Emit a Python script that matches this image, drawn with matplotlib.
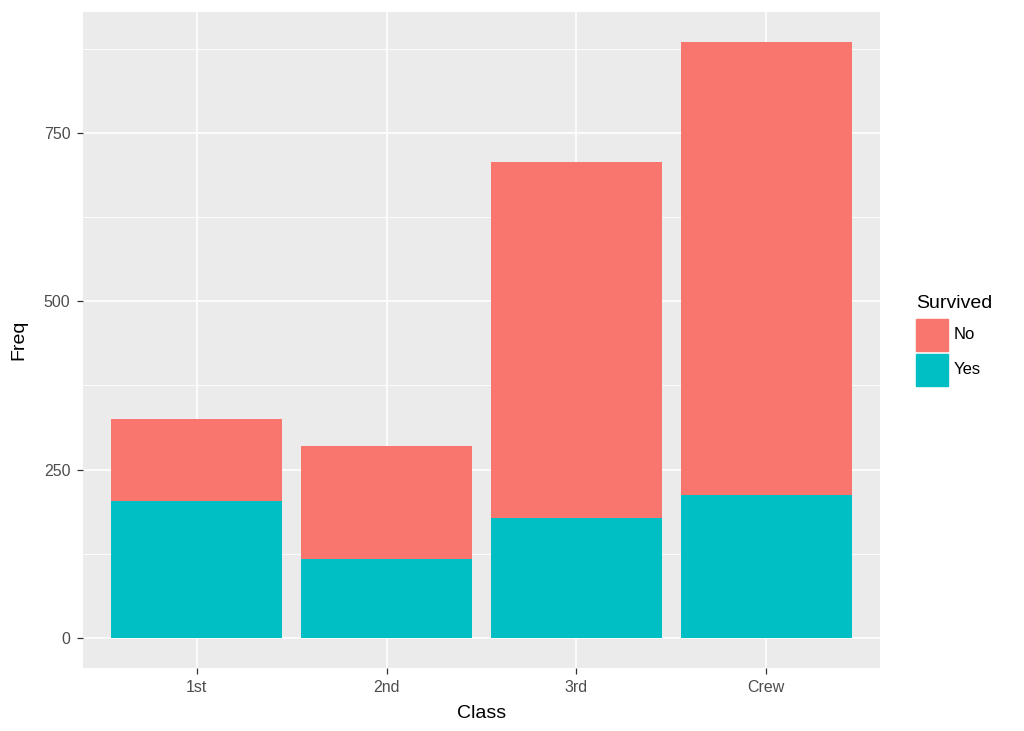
import matplotlib.pyplot as plt
from matplotlib.patches import Rectangle

classes = ["1st", "2nd", "3rd", "Crew"]
survived_yes = [203, 118, 178, 212]
survived_no = [122, 167, 528, 673]
y_ticks = [0, 250, 500, 750]
y_minor = [125, 375, 625, 875]

col_no = "#F8766D"
col_yes = "#00BFC4"

plt.rcParams['font.family'] = ['Liberation Sans', 'DejaVu Sans']

fig = plt.figure(figsize=(10.24, 7.31), dpi=100)
ax = fig.add_axes([83 / 1024, 63 / 731, 797 / 1024, 656 / 731])
ax.set_facecolor("#EBEBEB")

x = list(range(1, len(classes) + 1))
ax.bar(x, survived_yes, width=0.9, color=col_yes, zorder=3)
ax.bar(x, survived_no, width=0.9, bottom=survived_yes, color=col_no, zorder=3)

totals = [a + b for a, b in zip(survived_yes, survived_no)]
top = max(totals)
ax.set_xlim(0.4, len(classes) + 0.6)
ax.set_ylim(-0.05 * top, top * 1.05)

ax.set_xticks(x)
ax.set_xticklabels(classes)
ax.set_yticks(y_ticks)
ax.set_yticks(y_minor, minor=True)
ax.grid(which="major", color="white", linewidth=1.2, zorder=0)
ax.grid(which="minor", axis="y", color="white", linewidth=0.6, zorder=0)
ax.set_axisbelow(True)
for s in ax.spines.values():
    s.set_visible(False)
ax.tick_params(which="major", length=4, color="#333333", width=0.9,
               labelsize=11.5, labelcolor="#4D4D4D", pad=5)
ax.tick_params(which="minor", length=0)

ax.set_xlabel("Class", fontsize=14, labelpad=7)
ax.set_ylabel("Freq", fontsize=14, labelpad=12)

# legend drawn by hand, ggplot style
fig.text(916 / 1024, 1 - 308 / 731, "Survived", fontsize=14, va="baseline", ha="left")
for i, (lab, c) in enumerate([("No", col_no), ("Yes", col_yes)]):
    y0 = 1 - (351 + i * 35) / 731
    fig.patches.append(Rectangle((916 / 1024, y0), 32 / 1024, 32 / 731,
                                 transform=fig.transFigure, color=c, figure=fig))
    fig.text(954 / 1024, y0 + 16 / 731, lab, fontsize=12, va="center", ha="left")

fig.savefig("out.png", dpi=100)
